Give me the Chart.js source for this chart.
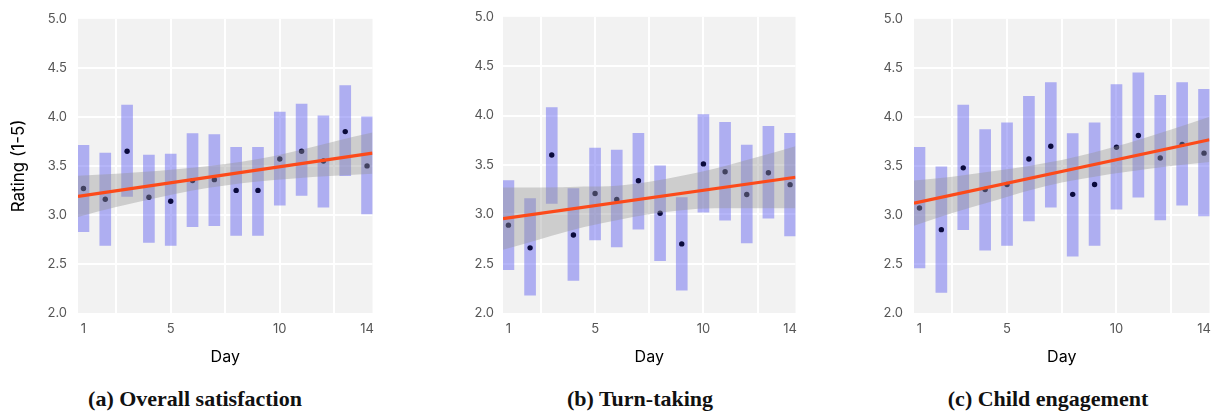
<!DOCTYPE html>
<html>
<head>
<meta charset="utf-8">
<script src="https://cdn.jsdelivr.net/npm/chart.js@4.4.1/dist/chart.umd.min.js"></script>
<style>
  body { margin: 0; background: #fff; width: 1219px; height: 413px; position: relative; overflow: hidden; }
  canvas { position: absolute; top: 0; }
  .cap { position: absolute; top: 386px; font-family: "Liberation Serif", serif; font-weight: bold; font-size: 22px; color: #111; transform: translateX(-50%); white-space: nowrap; }
</style>
</head>
<body>
<canvas id="c1" width="382" height="367" style="left:0px"></canvas>
<canvas id="c2" width="395" height="367" style="left:410px"></canvas>
<canvas id="c3" width="399" height="367" style="left:820px"></canvas>
<div class="cap" style="left:195px">(a) Overall satisfaction</div>
<div class="cap" style="left:640px">(b) Turn-taking</div>
<div class="cap" style="left:1048px">(c) Child engagement</div>
<script>
// günler
var days = [1, 2, 3, 4, 5, 6, 7, 8, 9, 10, 11, 12, 13, 14];
var dayTicks = [1, 5, 10, 14];
var ratingTicks = [2.0, 2.5, 3.0, 3.5, 4.0, 4.5, 5.0];

// (a) Overall satisfaction
var satLow  = [2.83, 2.69, 3.19, 2.72, 2.69, 2.88, 2.89, 2.79, 2.79, 3.10, 3.20, 3.08, 3.40, 3.01];
var satHigh = [3.71, 3.63, 4.12, 3.61, 3.62, 3.83, 3.82, 3.69, 3.69, 4.05, 4.13, 4.01, 4.32, 4.00];
var satMean = [3.27, 3.16, 3.65, 3.18, 3.14, 3.35, 3.36, 3.25, 3.25, 3.57, 3.65, 3.55, 3.85, 3.50];

// (b) Turn-taking
var turnLow  = [2.44, 2.18, 3.11, 2.33, 2.74, 2.67, 2.85, 2.53, 2.23, 3.02, 2.94, 2.71, 2.96, 2.78];
var turnHigh = [3.34, 3.16, 4.08, 3.26, 3.67, 3.65, 3.82, 3.49, 3.17, 4.01, 3.93, 3.70, 3.89, 3.82];
var turnMean = [2.89, 2.66, 3.60, 2.79, 3.21, 3.15, 3.34, 3.01, 2.70, 3.51, 3.43, 3.20, 3.42, 3.30];

// (c) Child engagement
var engLow  = [2.46, 2.21, 2.85, 2.64, 2.69, 2.94, 3.08, 2.58, 2.69, 3.06, 3.18, 2.95, 3.10, 2.99];
var engHigh = [3.69, 3.49, 4.12, 3.87, 3.94, 4.21, 4.35, 3.83, 3.94, 4.33, 4.45, 4.22, 4.35, 4.28];
var engMean = [3.07, 2.85, 3.48, 3.26, 3.31, 3.57, 3.70, 3.21, 3.31, 3.69, 3.81, 3.58, 3.72, 3.63];

// regresyon çizgisi ve güven bandı
var fitX = [0.75, 14.25];
var satFit  = [3.19, 3.63];
var turnFit = [2.955, 3.375];
var engFit  = [3.12, 3.767];

var bandX = [0.75, 2.5, 4.5, 6, 7.5, 9, 10.5, 12.5, 14.25];
var satUpper  = [3.40, 3.42, 3.45, 3.48, 3.52, 3.57, 3.64, 3.75, 3.84];
var satLower  = [2.98, 3.08, 3.18, 3.25, 3.30, 3.34, 3.37, 3.40, 3.42];
var turnUpper = [3.27, 3.27, 3.28, 3.29, 3.33, 3.39, 3.46, 3.58, 3.69];
var turnLower = [2.64, 2.75, 2.87, 2.94, 3.00, 3.04, 3.06, 3.06, 3.06];
var engUpper  = [3.35, 3.39, 3.45, 3.50, 3.56, 3.64, 3.73, 3.87, 4.00];
var engLower  = [2.89, 3.02, 3.15, 3.25, 3.33, 3.39, 3.44, 3.50, 3.54];

Chart.defaults.font.family = 'Inter, "Noto Sans", sans-serif';

// gri panel arka planı
var panelBg = {
    id: 'panelBg',
    beforeDraw: function (chart) {
        var a = chart.chartArea;
        chart.ctx.save();
        chart.ctx.fillStyle = '#f2f2f2';
        chart.ctx.fillRect(a.left, a.top, a.right - a.left, a.bottom - a.top);
        chart.ctx.restore();
    }
};

function pairs(xs, ys) {
    return xs.map(function (x, i) { return { x: x, y: ys[i] }; });
}

function makePanel(id, low, high, mean, fit, upper, lower, axisWidth, labelPad, rightPad, yTitle) {
    var ctx = document.getElementById(id).getContext('2d');
    return new Chart(ctx, {
        type: 'scatter',
        data: {
            datasets: [{
                type: 'bar',
                data: days.map(function (d, i) { return { x: d, y: [low[i], high[i]] }; }),
                backgroundColor: 'rgba(90, 90, 240, 0.45)',
                borderWidth: 0,
                barThickness: 11,
                grouped: false,
                order: 4
            }, {
                type: 'scatter',
                data: pairs(days, mean),
                backgroundColor: '#0a0a3c',
                pointRadius: 2.7,
                pointBorderWidth: 0,
                order: 3
            }, {
                type: 'line',
                data: pairs(bandX, upper),
                borderWidth: 0,
                pointRadius: 0,
                cubicInterpolationMode: 'monotone',
                backgroundColor: 'rgba(150, 150, 150, 0.4)',
                fill: '+1',
                order: 2
            }, {
                type: 'line',
                data: pairs(bandX, lower),
                borderWidth: 0,
                pointRadius: 0,
                cubicInterpolationMode: 'monotone',
                fill: false,
                order: 2
            }, {
                type: 'line',
                data: pairs(fitX, fit),
                borderColor: '#fc4a1a',
                borderWidth: 3.2,
                pointRadius: 0,
                fill: false,
                order: 1
            }]
        },
        options: {
            responsive: false,
            animation: false,
            layout: { padding: { top: 12, right: rightPad, left: 0, bottom: 0 } },
            plugins: { legend: { display: false }, tooltip: { enabled: false } },
            scales: {
                x: {
                    type: 'linear',
                    min: 0.75,
                    max: 14.25,
                    offset: false,
                    afterBuildTicks: function (scale) {
                        scale.ticks = [1, 2.5, 5, 7.5, 10, 12.5, 14].map(function (v) { return { value: v }; });
                    },
                    afterFit: function (scale) { scale.height = 54; },
                    ticks: {
                        autoSkip: false,
                        maxRotation: 0,
                        padding: 8,
                        color: '#555',
                        font: { size: 13 },
                        callback: function (v) { return dayTicks.indexOf(v) >= 0 ? String(v) : ''; }
                    },
                    grid: {
                        offset: false,
                        drawTicks: false,
                        lineWidth: 2,
                        color: function (c) { return c.tick && c.tick.value % 2.5 === 0 ? '#ffffff' : 'rgba(0,0,0,0)'; }
                    },
                    border: { display: false },
                    title: { display: true, text: 'Day', color: '#000', font: { size: 16 }, padding: 0 }
                },
                y: {
                    min: 2,
                    max: 5,
                    afterBuildTicks: function (scale) {
                        scale.ticks = ratingTicks.map(function (v) { return { value: v }; });
                    },
                    afterFit: function (scale) { scale.width = axisWidth; },
                    ticks: {
                        padding: labelPad,
                        color: '#555',
                        font: { size: 13 },
                        callback: function (v) { return v.toFixed(1); }
                    },
                    grid: {
                        drawTicks: false,
                        lineWidth: 2,
                        color: function (c) { return c.tick && (c.tick.value === 2 || c.tick.value === 5) ? 'rgba(0,0,0,0)' : '#ffffff'; }
                    },
                    border: { display: false },
                    title: { display: !!yTitle, text: yTitle || '', color: '#000', font: { size: 17 }, padding: { top: 9, bottom: 0 } }
                }
            }
        },
        plugins: [panelBg]
    });
}

makePanel('c1', satLow, satHigh, satMean, satFit, satUpper, satLower, 78, 11, 6, 'Rating (1-5)');
makePanel('c2', turnLow, turnHigh, turnMean, turnFit, turnUpper, turnLower, 93, 9, 4, null);
makePanel('c3', engLow, engHigh, engMean, engFit, engUpper, engLower, 94, 11, 7, null);
</script>
</body>
</html>
